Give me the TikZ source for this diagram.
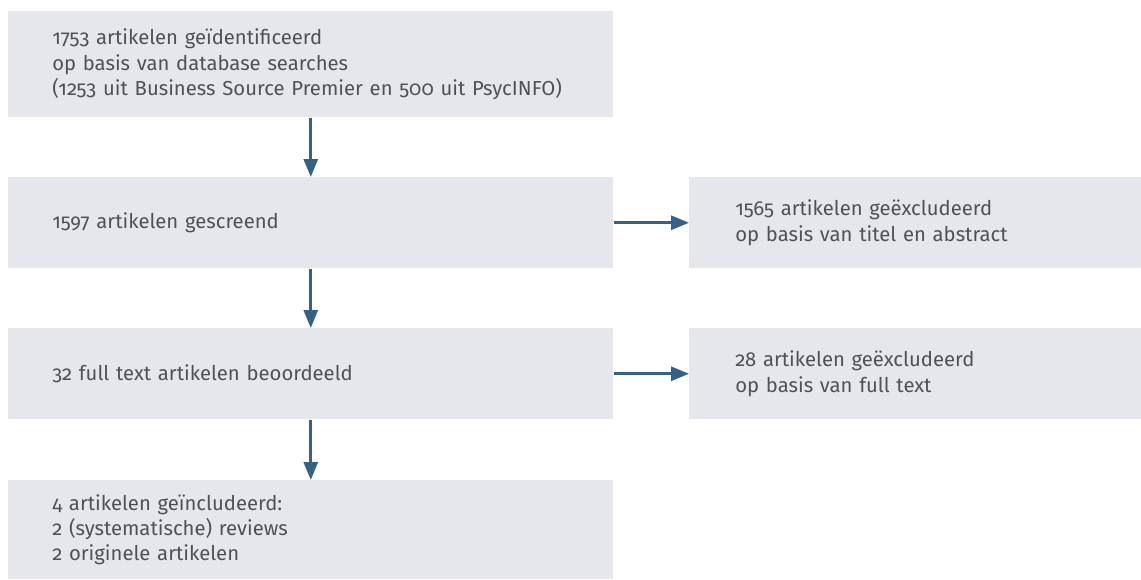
\documentclass[tikz,border=0pt]{standalone}
\usepackage{fontspec}
\setmainfont{Fira Sans}[Numbers=OldStyle]
\usetikzlibrary{arrows.meta}
\definecolor{boxgray}{HTML}{E6E7EC}
\definecolor{txtgray}{HTML}{505155}
\definecolor{arrowblue}{HTML}{346286}
\tikzset{
  stage/.style={fill=boxgray, anchor=north west, align=left, text=txtgray,
    font=\fontsize{15.2}{18.9}\selectfont, inner xsep=33pt, inner ysep=0pt,
    text width=387.75pt, minimum width=453.75pt},
  excl/.style={stage, inner xsep=34.5pt, text width=270pt, minimum width=339pt,
    minimum height=68.25pt},
  flow/.style={draw=arrowblue, line width=2.2pt,
    -{Triangle[width=10.5pt,length=13.5pt]}}
}
\begin{document}
\begin{tikzpicture}[x=0.75pt,y=-0.75pt]
    \useasboundingbox (0,0) rectangle (1141,579);
    % left column
    \node[stage, minimum height=79.5pt] (ident) at (8,11)
      {1753 artikelen geïdentificeerd\\op basis van database searches\\(1253 uit Business Source Premier en 500 uit PsycINFO)};
    \node[stage, minimum height=68.25pt] (screen) at (8,177) {1597 artikelen gescreend};
    \node[stage, minimum height=68.25pt] (full) at (8,328) {32 full text artikelen beoordeeld};
    \node[stage, minimum height=74.25pt] (incl) at (8,480)
      {4 artikelen geïncludeerd:\\2 (systematische) reviews\\2 originele artikelen};
    % right column
    \node[excl] (exclA) at (689,177) {1565 artikelen geëxcludeerd\\op basis van titel en abstract};
    \node[excl] (exclB) at (689,328) {28 artikelen geëxcludeerd\\op basis van full text};
    % arrows
    \draw[flow] (ident.south) -- (screen.north);
    \draw[flow] (screen.south) -- (full.north);
    \draw[flow] (full.south) -- (incl.north);
    \draw[flow] (screen.east) -- (exclA.west);
    \draw[flow] (full.east) -- (exclB.west);
\end{tikzpicture}
\end{document}
